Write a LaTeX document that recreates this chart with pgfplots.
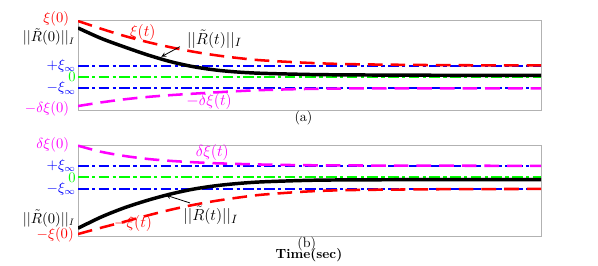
\documentclass[border=0pt]{standalone}
\usepackage{pgfplots}
\pgfplotsset{compat=1.18}
\definecolor{myred}{RGB}{255,0,0}
\definecolor{myblue}{RGB}{0,0,255}
\definecolor{mygreen}{RGB}{0,255,0}
\definecolor{mymag}{RGB}{255,0,255}
\newcommand{\tl}{\fontsize{10.5}{12}\selectfont}
\newcommand{\al}{\fontsize{12.5}{14}\selectfont}
\tikzset{lab/.style={anchor=east, inner sep=1.5pt, font=\tl}}
\pgfplotsset{
  common/.style={
    scale only axis, width=347.25pt, anchor=south west,
    xmin=0, xmax=1, xtick=\empty,
    axis line style={gray!60}, major tick length=0pt,
    clip=true, clip mode=individual,
    ytick={-1,0,1},
    yticklabels={{\color{myblue}$-\xi_\infty$},{\color{mygreen}$0$},{\color{myblue}$+\xi_\infty$}},
    yticklabel style={inner sep=1.5pt, font=\tl},
  },
  xiline/.style={myred, line width=1.9pt, dash pattern=on 11pt off 6pt},
  magline/.style={mymag, line width=1.9pt, dash pattern=on 11pt off 6pt},
  blueline/.style={myblue, line width=1.6pt, dash pattern=on 8pt off 2.5pt on 2.5pt off 2.5pt},
  greenline/.style={mygreen, line width=1.5pt, dash pattern=on 8pt off 2.5pt on 2.5pt off 2.5pt},
  blackline/.style={black, line width=2.6pt},
}
\begin{document}
\begin{tikzpicture}
\useasboundingbox (0,0) rectangle (448.5pt,198.75pt);
% ---------- (a) ----------
\begin{axis}[common, at={(58.5pt,116.25pt)}, height=67.5pt,
  ymin=-2.91, ymax=5.02,
]
\addplot[blueline] coordinates {(0,1) (1,1)};
\addplot[blueline] coordinates {(0,-1) (1,-1)};
\addplot[greenline] coordinates {(0,0) (1,0)};
\addplot[xiline, smooth] coordinates {(0,4.93) (0.05,4.25) (0.1,3.62) (0.15,3.08) (0.2,2.62) (0.25,2.22) (0.3,1.90) (0.35,1.65) (0.4,1.46) (0.5,1.24) (0.6,1.12) (0.8,1.04) (1.0,1.02)};
\addplot[magline, smooth] coordinates {(0,-2.56) (0.05,-2.24) (0.1,-1.97) (0.15,-1.76) (0.2,-1.60) (0.25,-1.47) (0.3,-1.35) (0.35,-1.24) (0.4,-1.15) (0.5,-1.05) (0.6,-1.01) (0.8,-1.0) (1.0,-1.0)};
\addplot[blackline, smooth] coordinates {(0,4.32) (0.05,3.40) (0.1,2.65) (0.15,1.95) (0.2,1.35) (0.25,0.90) (0.3,0.60) (0.35,0.42) (0.4,0.32) (0.5,0.22) (0.6,0.18) (0.8,0.15) (1.0,0.15)};
\node[lab, myred, xshift=-5pt] at (axis cs:0,5.11) {$\xi(0)$};
\node[lab, xshift=-0.5pt] at (axis cs:0,3.52) {$||\tilde R(0)||_I$};
\node[lab, mymag, xshift=-5pt] at (axis cs:0,-2.78) {$-\delta\xi(0)$};
\node[myred, font=\al] at (axis cs:0.14,3.88) {$\xi(t)$};
\node[mymag, font=\al] at (axis cs:0.283,-2.2) {$-\delta\xi(t)$};
\node[font=\al, anchor=west, inner sep=0pt] at (axis cs:0.235,3.35) {$||\tilde R(t)||_I$};
\draw[-stealth, semithick] (axis cs:0.22,2.67) -- (axis cs:0.18,1.78);
\end{axis}
% ---------- (b) ----------
\begin{axis}[common, at={(58.5pt,21.75pt)}, height=68.25pt,
  ymin=-5.10, ymax=2.81,
]
\addplot[blueline] coordinates {(0,1) (1,1)};
\addplot[blueline] coordinates {(0,-1) (1,-1)};
\addplot[greenline] coordinates {(0,0) (1,0)};
\addplot[magline, smooth] coordinates {(0,2.75) (0.05,2.22) (0.1,1.86) (0.15,1.60) (0.2,1.43) (0.25,1.31) (0.3,1.22) (0.4,1.11) (0.5,1.05) (0.6,1.03) (0.8,1.01) (1.0,1.00)};
\addplot[xiline, smooth] coordinates {(0,-4.93) (0.05,-4.38) (0.1,-3.86) (0.15,-3.32) (0.2,-2.82) (0.25,-2.39) (0.3,-2.03) (0.35,-1.74) (0.4,-1.50) (0.5,-1.22) (0.6,-1.10) (0.8,-1.03) (1.0,-1.01)};
\addplot[blackline, smooth] coordinates {(0,-4.43) (0.05,-3.45) (0.1,-2.65) (0.15,-2.00) (0.2,-1.45) (0.25,-1.02) (0.3,-0.72) (0.35,-0.52) (0.4,-0.39) (0.5,-0.26) (0.6,-0.22) (0.8,-0.20) (1.0,-0.20)};
\node[lab, mymag, xshift=-5pt] at (axis cs:0,2.81) {$\delta\xi(0)$};
\node[lab, xshift=-0.5pt] at (axis cs:0,-3.60) {$||\tilde R(0)||_I$};
\node[lab, myred, xshift=-1.5pt] at (axis cs:0,-5.00) {$-\xi(0)$};
\node[mymag, font=\al] at (axis cs:0.29,2.14) {$\delta\xi(t)$};
\node[myred, font=\al] at (axis cs:0.119,-3.98) {$-\xi(t)$};
\node[font=\al, anchor=west, inner sep=0pt] at (axis cs:0.227,-3.28) {$||\tilde R(t)||_I$};
\draw[-stealth, semithick] (axis cs:0.242,-2.23) -- (axis cs:0.19,-1.55);
\end{axis}
\node[font=\fontsize{10.5}{12}\selectfont] at (227.6pt,110.25pt) {(a)};
\node[font=\fontsize{10.5}{12}\selectfont] at (230pt,15.5pt) {(b)};
\node[font=\bfseries] at (231.75pt,7.5pt) {Time(sec)};
\end{tikzpicture}
\end{document}
